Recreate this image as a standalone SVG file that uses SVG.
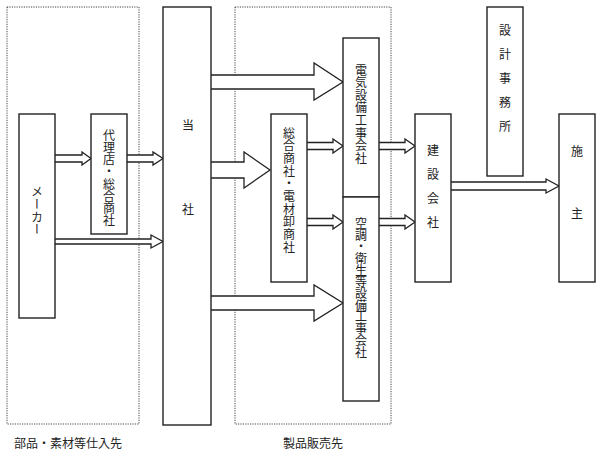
<svg xmlns="http://www.w3.org/2000/svg" width="601" height="464" viewBox="0 0 601 464">
<style>
.box{fill:#fff;stroke:#222;stroke-width:1.4}
.grp{fill:none;stroke:#444;stroke-width:1;stroke-dasharray:1.2 1.2}
.arr{fill:#fff;stroke:#222;stroke-width:1.3;stroke-linejoin:miter}
text{font-family:"Noto Sans CJK JP","Noto Sans",sans-serif;font-size:12px;fill:#222}
.v{writing-mode:vertical-rl;text-anchor:middle}
.h{text-anchor:middle;dominant-baseline:central}
</style>
<rect width="601" height="464" fill="#fff"/>
<g id="groups">
<rect class="grp" x="7" y="7" width="132" height="417"/>
<rect class="grp" x="235" y="7" width="156" height="417"/>
<text x="68" y="448" text-anchor="middle">部品・素材等仕入先</text>
<text x="313" y="448" text-anchor="middle">製品販売先</text>
</g>
<g id="connectors">
<path class="arr" d="M55,155 H82 V152 L91,158.5 L82,165 V162 H55"/>
<path class="arr" d="M127,155 H153 V152 L163,158.5 L153,165 V162 H127"/>
<path class="arr" d="M55,239 H151 V235 L163,241.5 L151,248 V244 H55"/>
<path class="arr" d="M211,75 H314 V63 L343,82 L314,100 V89 H211"/>
<path class="arr" d="M211,162 H244 V152 L270,170 L244,188 V178 H211"/>
<path class="arr" d="M211,296 H314 V285 L343,303 L314,321 V310 H211"/>
<path class="arr" d="M307,142.5 H333 V139 L343,146 L333,153 V149.5 H307"/>
<path class="arr" d="M307,218.5 H333 V215 L343,222 L333,229 V225.5 H307"/>
<path class="arr" d="M379,142.5 H405 V139 L415,146 L405,153 V149.5 H379"/>
<path class="arr" d="M379,218.5 H405 V215 L415,222 L405,229 V225.5 H379"/>
<path class="arr" d="M451,182 H546 V179 L559,186 L546,193 V190 H451"/>
</g>
<g id="maker">
<rect class="box" x="19" y="114" width="36" height="204"/>
<text class="v" x="37" y="211" style="letter-spacing:0.7px">メーカー</text>
</g>
<g id="dairiten">
<rect class="box" x="91" y="114" width="36" height="120"/>
<text class="v" x="109" y="178" style="letter-spacing:0.1px">代理店・総合商社</text>
</g>
<g id="tousha">
<rect class="box" x="163" y="7" width="48" height="418"/>
<text class="h" x="188" y="124">当</text>
<text class="h" x="188" y="208">社</text>
</g>
<g id="sougou">
<rect class="box" x="271" y="114" width="36" height="168"/>
<text class="v" x="289" y="190.5" style="letter-spacing:0.7px">総合商社・電材卸商社</text>
</g>
<g id="denki">
<rect class="box" x="343" y="38" width="36" height="159"/>
<text class="v" x="361" y="114.5" style="letter-spacing:0.6px">電気設備工事会社</text>
</g>
<g id="kuchou">
<rect class="box" x="343" y="197" width="36" height="204"/>
<text class="v" x="361" y="287.5" style="letter-spacing:-0.3px">空調・衛生等設備工事会社</text>
</g>
<g id="kensetsu">
<rect class="box" x="415" y="114" width="36" height="168"/>
<text class="v" x="433" y="192" style="letter-spacing:12px">建設会社</text>
</g>
<g id="sekkei">
<rect class="box" x="487" y="7" width="36" height="169"/>
<text class="v" x="505" y="84" style="letter-spacing:12px">設計事務所</text>
</g>
<g id="seshu">
<rect class="box" x="559" y="114" width="36" height="168"/>
<text class="h" x="577" y="150">施</text>
<text class="h" x="577" y="212">主</text>
</g>
</svg>
